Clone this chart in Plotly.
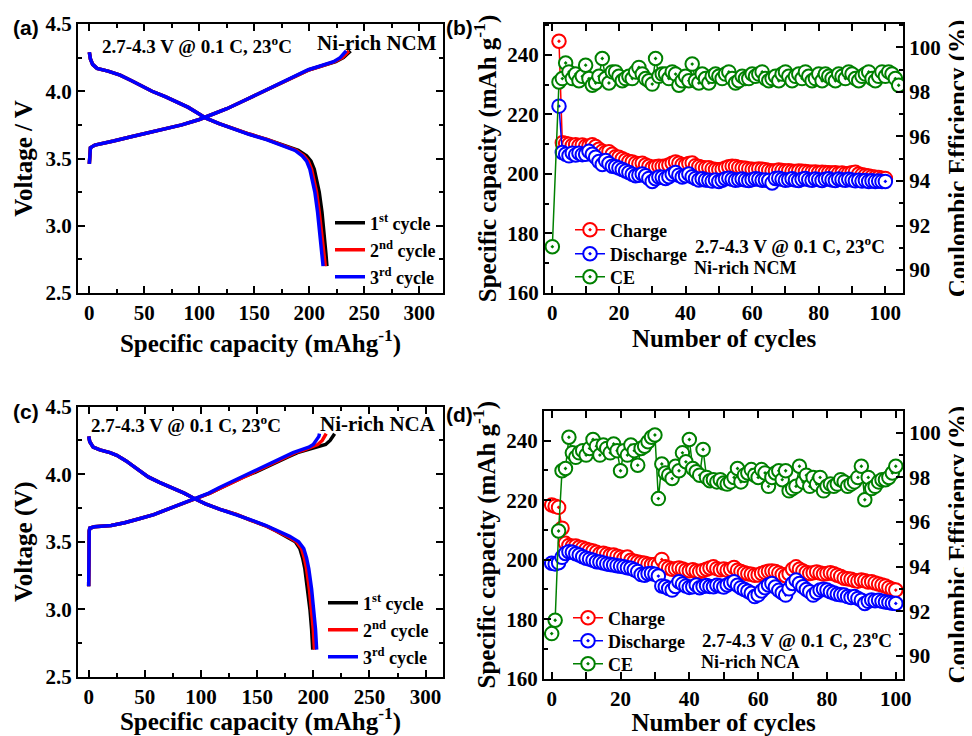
import plotly.graph_objects as go

# page has an 8px body margin; the figure fills the rest of the 972x736 window
OFF = 8
W, H = 972 - OFF, 736 - OFF

# ---------------- Panel (a): Ni-rich NCM voltage profiles ----------------
a_chg_v = [3.46, 3.55, 3.58, 3.60, 3.61, 3.63, 3.66, 3.69, 3.72, 3.75, 3.79, 3.83, 3.87,
           3.92, 3.97, 4.02, 4.07, 4.12, 4.16, 4.18, 4.20, 4.22, 4.25, 4.28, 4.30]
a_chg_cap1 = [0, 0.3, 1, 5, 12, 22, 37, 52, 68, 84, 100, 113, 125, 138, 151, 164, 178, 190,
              200, 208, 217, 224, 231, 235, 237.5]
a_chg_cap2 = [0, 0.3, 1, 5, 12, 22, 37, 52, 68, 84, 100, 113, 125, 138, 151, 164, 178, 190,
              200, 208, 216, 223, 230, 234, 236]
a_chg_cap3 = [0, 0.3, 1, 5, 12, 22, 37, 52, 68, 84, 100, 113, 125, 138, 151, 164, 177, 189,
              199, 207, 215, 222, 228, 232, 233.5]
a_dis_v = [4.29, 4.24, 4.20, 4.17, 4.15, 4.12, 4.08, 4.04, 4.00, 3.96, 3.92, 3.88, 3.84, 3.80,
           3.76, 3.72, 3.68, 3.64, 3.60, 3.56, 3.52, 3.48, 3.42, 3.35, 3.25, 3.10, 2.95, 2.80, 2.70]
a_dis_cap1 = [0, 1, 3, 7, 17, 28, 38, 47, 57, 69, 80, 90, 98, 106, 118, 131, 146, 162, 177,
              190, 197.5, 201.5, 204.5, 206.5, 209, 211.5, 213.5, 215, 216]
a_dis_cap2 = [0, 1, 3, 7, 17, 28, 38, 47, 57, 69, 80, 90, 98, 106, 118, 131, 146, 162, 176,
              188, 195, 199, 202, 204, 206.5, 209, 211, 213, 214.5]
a_dis_cap3 = [0, 1, 3, 7, 17, 28, 38, 47, 57, 69, 80, 90, 98, 106, 118, 131, 145, 161, 175,
              187, 193.5, 197.5, 200.5, 202.5, 205, 207.5, 209.5, 211, 212.5]

# ---------------- Panel (c): Ni-rich NCA voltage profiles ----------------
c_chg_v = [3.17, 3.45, 3.58, 3.60, 3.61, 3.62, 3.64, 3.67, 3.70, 3.74, 3.78, 3.82, 3.86, 3.90,
           3.94, 3.98, 4.02, 4.06, 4.10, 4.13, 4.16, 4.18, 4.20, 4.22, 4.25, 4.28, 4.30]
c_chg_cap1 = [0, 0, 0.5, 1, 5, 20, 32, 45, 58, 70, 83, 96, 108, 118, 128, 138, 150, 160, 169,
              178, 186, 195, 204, 211, 215, 218, 219]
c_chg_cap2 = [0, 0, 0.5, 1, 5, 20, 32, 45, 58, 70, 83, 96, 108, 118, 128, 138, 149, 159, 168,
              176, 184, 192, 199, 204, 208, 210.5, 211.5]
c_chg_cap3 = [0, 0, 0.5, 1, 5, 20, 32, 45, 58, 70, 83, 96, 107, 116, 126, 136, 146, 156, 166,
              174, 182, 189, 196, 200, 203, 205, 205.5]
c_dis_v = [4.28, 4.24, 4.20, 4.18, 4.16, 4.14, 4.10, 4.06, 4.02, 3.98, 3.94, 3.90, 3.86, 3.82,
           3.78, 3.74, 3.70, 3.66, 3.62, 3.58, 3.54, 3.50, 3.45, 3.38, 3.30, 3.15, 3.00, 2.85, 2.70]
c_dis_cap1 = [0, 1, 4, 10, 19, 25, 33, 40, 46, 53, 63, 74, 85, 94, 104, 117, 132, 144, 157,
              167, 176, 184, 188, 190.5, 192.5, 195, 197, 198.5, 199.5]
c_dis_cap2 = [0, 1, 4, 10, 19, 25, 33, 40, 46, 53, 63, 74, 85, 94, 104, 117, 132, 144, 157,
              167, 177, 185, 189.5, 192, 194, 196.5, 198.5, 200, 201]
c_dis_cap3 = [0, 1, 4, 10, 19, 25, 33, 40, 46, 53, 63, 74, 85, 94, 104, 117, 132, 145, 158,
              169, 179, 187, 191.5, 194, 196, 198.5, 200.5, 202, 203]

# ---------------- Panel (b): NCM cycling ----------------
b_cap_cycles = list(range(2, 101))
b_charge = [244.6, 210.5, 210.2, 210.0, 209.6, 209.8, 209.5, 209.7, 209.3, 209.4, 209.8, 209.2,
            208.3, 207.6, 207.2, 207.5, 206.6, 205.8, 205.6, 205.1, 204.6, 204.2, 204.0, 203.6,
            203.4, 203.6, 203.0, 202.6, 202.1, 202.4, 202.6, 202.5, 202.7, 203.0, 203.6, 204.0,
            203.6, 203.1, 203.0, 203.5, 203.7, 202.8, 202.5, 202.2, 202.0, 202.1, 201.7, 201.5,
            201.4, 201.6, 202.0, 202.4, 202.6, 202.5, 202.2, 202.0, 201.9, 201.7, 201.6, 201.5,
            201.7, 201.6, 201.4, 201.2, 201.0, 201.1, 201.3, 201.2, 201.0, 201.1, 200.9, 200.8,
            201.0, 200.9, 200.8, 200.7, 200.6, 200.7, 200.5, 200.6, 200.5, 200.4, 200.3, 200.4,
            200.2, 200.3, 200.1, 200.2, 200.4, 200.6, 200.0, 199.7, 199.5, 199.3, 199.1, 198.9,
            198.8, 198.6, 198.5]
b_discharge = [222.8, 207.2, 206.6, 206.1, 207.0, 206.4, 207.0, 206.5, 206.6, 207.6, 206.6, 205.6,
               204.2, 203.2, 204.5, 203.5, 202.6, 202.4, 202.0, 201.5, 201.0, 200.5, 199.9, 199.4,
               199.6, 200.0, 199.4, 198.5, 197.5, 198.4, 199.0, 198.9, 198.5, 199.1, 199.9, 200.5,
               199.6, 199.0, 199.4, 200.0, 199.1, 198.5, 198.0, 198.4, 198.0, 197.9, 197.6, 198.0,
               197.5, 197.9, 198.4, 198.6, 198.2, 197.9, 198.1, 198.3, 198.0, 197.8, 198.1, 198.4,
               198.2, 197.9, 198.0, 197.8, 197.0, 198.5, 198.6, 198.2, 197.9, 198.1, 198.4, 198.0,
               197.8, 198.2, 198.5, 198.1, 197.9, 198.3, 198.1, 197.8, 198.2, 198.4, 198.0, 197.8,
               198.3, 198.1, 197.9, 198.2, 198.0, 197.7, 197.9, 197.6, 197.8, 197.5, 197.7, 197.5,
               197.6, 197.5, 197.5]
b_ce_cycles = [0] + list(range(2, 105))
b_ce = [91.05, 98.45, 98.6, 99.3, 98.9, 98.6, 98.8, 98.5, 98.7, 99.2, 98.6, 98.3, 98.4, 98.7,
        99.5, 98.6, 98.4, 98.9, 98.9, 98.7, 98.5, 98.6, 98.7, 98.6, 98.9, 99.1, 98.8, 98.6, 98.5,
        98.35, 99.5, 98.7, 98.8, 98.8, 98.6, 98.9, 98.8, 98.3, 98.5, 98.7, 98.5, 99.25, 98.5,
        98.4, 98.8, 98.6, 98.4, 98.7, 98.8, 98.7, 98.6, 98.8, 98.9, 98.6, 98.4, 98.5, 98.7, 98.6,
        98.6, 98.8, 98.7, 98.8, 98.9, 98.6, 98.5, 98.6, 98.7, 98.5, 98.8, 98.9, 98.7, 98.5, 98.7,
        98.8, 98.6, 98.9, 98.7, 98.5, 98.6, 98.8, 98.5, 98.8, 98.7, 98.6, 98.5, 98.8, 98.7, 98.6,
        98.9, 98.8, 98.6, 98.5, 98.7, 98.8, 98.9, 98.6, 98.5, 98.7, 98.9, 98.7, 98.9, 98.8, 98.6,
        98.3]

# ---------------- Panel (d): NCA cycling ----------------
d_cap_cycles = list(range(0, 101))
d_charge = [218.4, 218.0, 217.6, 210.6, 205.5, 204.8, 204.5, 204.6, 204.2, 203.9, 203.5, 203.2,
            202.9, 202.5, 202.0, 202.2, 201.8, 201.5, 201.6, 201.2, 200.8, 200.4, 200.9, 199.8,
            199.5, 199.2, 199.0, 198.8, 198.5, 198.3, 198.4, 198.2, 200.1, 197.6, 197.2, 196.8,
            197.0, 197.2, 196.9, 196.5, 196.3, 196.6, 196.2, 196.0, 196.4, 196.8, 197.2, 197.6,
            197.0, 196.6, 196.9, 196.5, 196.8, 197.4, 196.5, 196.0, 195.6, 195.3, 195.1, 194.8,
            194.9, 195.4, 195.8, 196.1, 196.2, 196.0, 195.5, 195.0, 194.6, 195.3, 196.8, 197.6,
            196.8, 196.2, 195.7, 195.4, 195.6, 195.9, 195.5, 195.2, 195.4, 195.6, 195.3, 194.8,
            194.4, 193.8, 193.6, 193.4, 193.0, 192.8, 193.2, 192.9, 192.5, 192.6, 192.2, 191.8,
            191.5, 191.2, 190.6, 190.1, 189.8]
d_discharge = [198.8, 198.6, 199.0, 200.8, 202.1, 202.7, 202.5, 202.0, 201.6, 201.0, 200.5, 200.2,
               199.8, 199.3, 199.2, 198.9, 198.6, 198.4, 198.2, 198.0, 197.8, 197.6, 197.3, 197.1,
               196.6, 196.0, 195.0, 194.8, 195.3, 195.4, 195.1, 194.5, 191.2, 190.9, 190.3, 189.8,
               191.0, 192.6, 191.8, 191.2, 190.7, 190.9, 191.5, 190.6, 191.0, 191.3, 191.0, 190.9,
               191.4, 191.2, 190.8, 191.5, 192.1, 192.6, 191.4, 190.6, 190.0, 189.4, 188.7, 187.6,
               188.2, 189.5, 190.6, 191.5, 192.0, 190.8, 189.7, 188.9, 188.1, 190.2, 192.0, 193.2,
               192.0, 190.9, 190.0, 189.2, 188.1, 189.0, 189.8, 190.1, 189.8, 189.2, 188.8, 188.4,
               188.2, 188.1, 187.6, 187.3, 187.6, 187.0, 186.4, 185.3, 186.0, 186.5, 186.2, 186.4,
               186.0, 185.8, 185.6, 185.4, 185.3]
d_ce_cycles = list(range(0, 101))
d_ce = [91.0, 91.6, 95.6, 98.3, 98.4, 99.8, 99.1, 98.9, 99.1, 99.2, 99.0, 99.3, 99.7, 99.4, 99.0,
        99.45, 99.3, 99.1, 99.5, 99.2, 98.3, 99.2, 99.0, 99.45, 99.2, 98.55, 99.3, 99.4, 99.6, 99.8,
        99.9, 97.05, 98.6, 98.2, 98.1, 97.95, 98.5, 98.3, 99.1, 98.7, 99.7, 98.4, 98.25, 98.1, 99.25,
        98.0, 97.85, 97.9, 97.8, 97.9, 97.75, 97.7, 97.8, 98.0, 98.4, 97.8, 98.1, 98.2, 98.35, 98.1,
        98.0, 98.35, 98.2, 97.6, 98.0, 98.2, 98.3, 97.9, 98.3, 97.4, 97.5, 97.6, 98.5, 97.8, 98.1,
        97.6, 98.0, 97.7, 98.0, 97.4, 97.6, 97.7, 97.6, 97.7, 97.9, 97.8, 97.6, 97.7, 97.8, 98.0,
        98.5, 97.0, 98.0, 97.5, 97.6, 97.8, 97.9, 97.9, 98.0, 98.2, 98.5]

cycle_names = ["1<sup>st</sup> cycle", "2<sup>nd</sup> cycle", "3<sup>rd</sup> cycle"]
cycle_colors = ["#000000", "#ff0000", "#0000ff"]
RED, BLUE, GREEN = "#ff0000", "#0000ff", "#008000"
SERIF = "Liberation Serif"


def px_x(p):
    return (p - OFF) / W


def px_y(p):
    return 1 - (p - OFF) / H


fig = go.Figure()
legends = {}
legfont = dict(family=SERIF, size=18, color="black", weight="bold")


def add_legend(key, x, y):
    legends[key] = dict(font=legfont, bgcolor="rgba(0,0,0,0)", borderwidth=0, itemwidth=30,
                        xanchor="left", yanchor="middle", x=px_x(x), y=px_y(y))


def profile(chg_cap, chg_v, dis_cap, dis_v, name, color, xa, ya, legend):
    fig.add_trace(go.Scatter(
        x=chg_cap + [None] + dis_cap, y=chg_v + [None] + dis_v, mode="lines",
        line=dict(color=color, width=3.5), name=name, xaxis=xa, yaxis=ya,
        legend=legend, connectgaps=False))


def cyc(x, y, name, color, xa, ya, legend):
    fig.add_trace(go.Scatter(
        x=x, y=y, mode="lines+markers", name=name, xaxis=xa, yaxis=ya, legend=legend,
        line=dict(color=color, width=1.5),
        marker=dict(symbol="circle-dot", size=13.5, color="white",
                    line=dict(color=color, width=2))))


profile(a_chg_cap1, a_chg_v, a_dis_cap1, a_dis_v, cycle_names[0], cycle_colors[0], "x", "y", "legend")
profile(a_chg_cap2, a_chg_v, a_dis_cap2, a_dis_v, cycle_names[1], cycle_colors[1], "x", "y", "legend2")
profile(a_chg_cap3, a_chg_v, a_dis_cap3, a_dis_v, cycle_names[2], cycle_colors[2], "x", "y", "legend3")
add_legend("legend", 330, 223)
add_legend("legend2", 330, 250)
add_legend("legend3", 330, 277)

profile(c_chg_cap1, c_chg_v, c_dis_cap1, c_dis_v, cycle_names[0], cycle_colors[0], "x3", "y5", "legend4")
profile(c_chg_cap2, c_chg_v, c_dis_cap2, c_dis_v, cycle_names[1], cycle_colors[1], "x3", "y5", "legend5")
profile(c_chg_cap3, c_chg_v, c_dis_cap3, c_dis_v, cycle_names[2], cycle_colors[2], "x3", "y5", "legend6")
add_legend("legend4", 323, 603)
add_legend("legend5", 323, 630)
add_legend("legend6", 323, 657)

cyc(b_cap_cycles, b_charge, "Charge", RED, "x2", "y3", "legend7")
cyc(b_cap_cycles, b_discharge, "Discharge", BLUE, "x2", "y3", "legend8")
cyc(b_ce_cycles, b_ce, "CE", GREEN, "x2", "y4", "legend9")
add_legend("legend7", 570, 230)
add_legend("legend8", 570, 254)
add_legend("legend9", 570, 277)

cyc(d_cap_cycles, d_charge, "Charge", RED, "x4", "y6", "legend10")
cyc(d_cap_cycles, d_discharge, "Discharge", BLUE, "x4", "y6", "legend11")
cyc(d_ce_cycles, d_ce, "CE", GREEN, "x4", "y7", "legend12")
add_legend("legend10", 568, 618)
add_legend("legend11", 568, 641)
add_legend("legend12", 568, 664)

tickfont = dict(family=SERIF, size=21, color="black", weight="bold")
titlefont = dict(family=SERIF, size=25, color="black", weight="bold")


def ax(domain, rng, dtick, minor, title, anchor, standoff, **kw):
    d = dict(domain=domain, range=rng, dtick=dtick, tick0=0, anchor=anchor,
             ticks="inside", ticklen=7, tickwidth=2, tickcolor="black",
             minor=dict(dtick=minor, ticks="inside", ticklen=4, tickwidth=2, tickcolor="black"),
             showline=True, linewidth=2, linecolor="black", mirror="allticks",
             showgrid=False, zeroline=False, tickfont=tickfont, automargin=False,
             title=dict(text=title, font=titlefont, standoff=standoff))
    d.update(kw)
    return d


dom_a_x = [px_x(78), px_x(443)]
dom_b_x = [px_x(545), px_x(903)]
dom_d_x = [px_x(544), px_x(903)]
dom_top_y = [px_y(293), px_y(24)]
dom_c_y = [px_y(676.7), px_y(406.7)]
dom_d_y = [px_y(678.7), px_y(410.7)]

xcap_title = "Specific capacity (mAhg<sup>-1</sup>)"
layout = dict(
    template="none",
    width=W, height=H, margin=dict(l=0, r=0, t=0, b=0, autoexpand=False),
    paper_bgcolor="white", plot_bgcolor="white", showlegend=True,
    xaxis=ax(dom_a_x, [-10.3, 321.5], 50, 25, xcap_title, "y", 5),
    yaxis=ax(dom_top_y, [2.5, 4.5], 0.5, 0.25, "Voltage / V", "x", 6, tickformat=".1f"),
    xaxis2=ax(dom_b_x, [-2.2, 105.3], 20, 10, "Number of cycles", "y3", 5),
    yaxis3=ax(dom_top_y, [160, 250.4], 20, 10, "Specific capacity (mAh g<sup>-1</sup>)", "x2", 4,
              mirror=False),
    yaxis4=ax(dom_top_y, [88.97, 101.05], 2, 1, "Coulombic Efficiency (%)", "x2", 9,
              overlaying="y3", side="right", mirror=False),
    xaxis3=ax(dom_a_x, [-9.5, 315.5], 50, 25, xcap_title, "y5", 5),
    yaxis5=ax(dom_c_y, [2.5, 4.5], 0.5, 0.25, "Voltage (V)", "x3", 6, tickformat=".1f"),
    xaxis4=ax(dom_d_x, [-2.24, 102.1], 20, 10, "Number of cycles", "y6", 5),
    yaxis6=ax(dom_d_y, [160, 250.1], 20, 10, "Specific capacity (mAh g<sup>-1</sup>)", "x4", 4,
              mirror=False),
    yaxis7=ax(dom_d_y, [88.98, 100.99], 2, 1, "Coulombic Efficiency (%)", "x4", 9,
              overlaying="y6", side="right", mirror=False),
)
layout.update(legends)

cond = "<b>2.7-4.3 V @ 0.1 C, 23<sup>o</sup>C</b>"
annots = [
    (26, 27, "<b>(a)</b>", 21, "Liberation Sans"),
    (459, 27, "<b>(b)</b>", 21, "Liberation Sans"),
    (26, 411, "<b>(c)</b>", 21, "Liberation Sans"),
    (459, 414, "<b>(d)</b>", 21, "Liberation Sans"),
    (197, 45, cond, 19, SERIF),
    (377, 43, "<b>Ni-rich NCM</b>", 21, SERIF),
    (790, 245, cond, 19, SERIF),
    (745, 268, "<b>Ni-rich NCM</b>", 18, SERIF),
    (186, 424, cond, 19, SERIF),
    (378, 424, "<b>Ni-rich NCA</b>", 21, SERIF),
    (797, 639, cond, 19, SERIF),
    (750, 662, "<b>Ni-rich NCA</b>", 18, SERIF),
]
layout["annotations"] = [
    dict(x=px_x(x), y=px_y(y), xref="paper", yref="paper", text=t, showarrow=False,
         font=dict(family=f, size=s, color="black"), xanchor="center", yanchor="middle")
    for (x, y, t, s, f) in annots
]

fig.update_layout(**layout)
fig.write_html("out.html")
